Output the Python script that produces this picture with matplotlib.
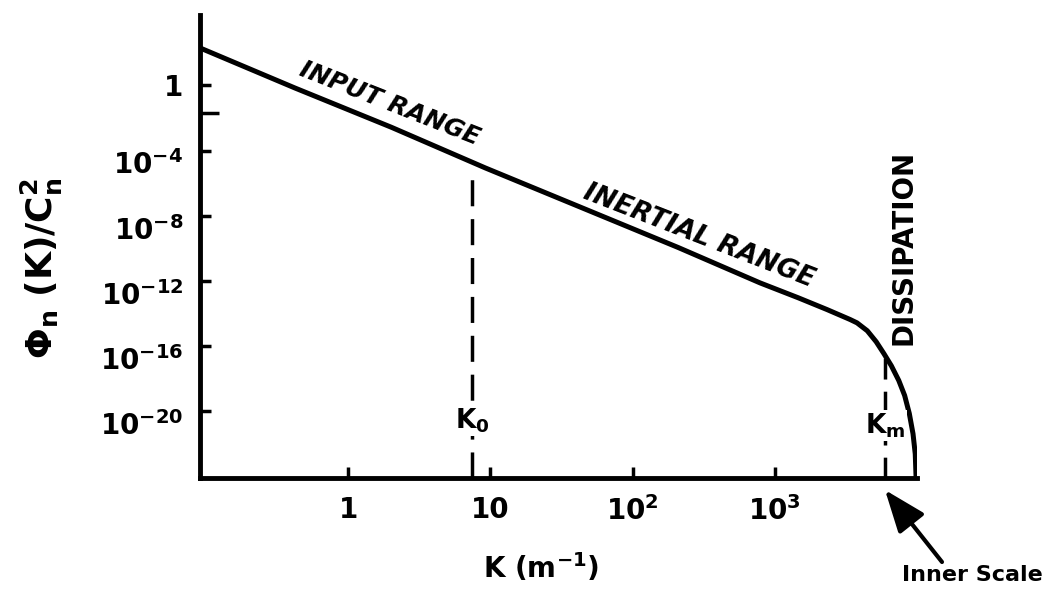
import matplotlib
matplotlib.use("Agg")
import matplotlib.pyplot as plt
from matplotlib.ticker import FixedLocator, NullLocator, NullFormatter, FixedFormatter
from matplotlib.patches import ArrowStyle

plt.rcParams['font.family'] = ['DejaVu Sans']
plt.rcParams['font.weight'] = 'bold'
plt.rcParams['mathtext.fontset'] = 'dejavusans'
plt.rcParams['mathtext.default'] = 'bf'

# ---- data ----
k_values = [0.090, 0.42, 2.0, 9.2, 42.7, 210, 791, 1470, 2344, 3400, 3811,
            4500, 5200, 5900, 6650, 7500, 8250, 8900, 9450, 9800, 9950]
phi_values = [2.0e2, 0.69, 2.7e-3, 8.5e-6, 3.4e-8, 1.1e-10, 7.4e-13, 9.0e-14,
              1.7e-14, 4.2e-15, 2.6e-15, 8.5e-16, 1.8e-16, 3.3e-17, 6.0e-18,
              7.5e-19, 9.0e-20, 7.0e-21, 4.0e-22, 2.3e-23, 5e-25]

k0 = 7.4          # outer-scale wavenumber
k0_top = 3e-6
km = 6000.0       # inner-scale wavenumber
km_top = 2e-17

x_ticks = [1, 10, 100, 1000]
x_tick_labels = ['1', '10', r'$10^2$', r'$10^3$']
y_ticks = [1, 1e-4, 1e-8, 1e-12, 1e-16, 1e-20]
y_tick_labels = ['1', r'$10^{-4}$', r'$10^{-8}$', r'$10^{-12}$', r'$10^{-16}$', r'$10^{-20}$']
y_minor_ticks = [10 ** -1.7]

xlim = (0.0900, 10081)
ylim = (10 ** -24.115, 10 ** 4.324)

# ---- figure ----
W, H = 1046, 589
fig = plt.figure(figsize=(W / 100, H / 100), dpi=100)
ax = fig.add_axes([200 / W, 111 / H, 717 / W, 463 / H])
ax.set_xscale('log')
ax.set_yscale('log')
ax.set_xlim(*xlim)
ax.set_ylim(*ylim)

ax.plot(k_values, phi_values, color='black', lw=3.6, solid_capstyle='round',
        solid_joinstyle='round', zorder=3)

ax.vlines([k0], ylim[0], k0_top, colors='black', lw=2.5, linestyles=(0, (7.5, 3.7)), zorder=2)
ax.vlines([km], ylim[0], km_top, colors='black', lw=2.5, linestyles=(0, (6, 3.5)), zorder=2)

ax.text(k0, 10 ** -20.6, r'K$_0$', ha='center', va='center', fontsize=19,
        bbox=dict(facecolor='white', edgecolor='none', pad=1), zorder=4)
ax.text(km, 10 ** -20.9, r'K$_m$', ha='center', va='center', fontsize=19,
        bbox=dict(facecolor='white', edgecolor='none', pad=1), zorder=4)

# spines
for s in ['top', 'right']:
    ax.spines[s].set_visible(False)
for s in ['left', 'bottom']:
    ax.spines[s].set_linewidth(3.5)
    ax.spines[s].set_capstyle('projecting')

# ticks
ax.xaxis.set_major_locator(FixedLocator(x_ticks))
ax.xaxis.set_major_formatter(FixedFormatter(x_tick_labels))
ax.xaxis.set_minor_locator(NullLocator())
ax.yaxis.set_major_locator(FixedLocator(y_ticks))
ax.yaxis.set_major_formatter(FixedFormatter(y_tick_labels))
ax.yaxis.set_minor_locator(FixedLocator(y_minor_ticks))
ax.yaxis.set_minor_formatter(NullFormatter())

ax.tick_params(axis='both', which='major', direction='in', length=8, width=2.5,
               labelsize=20)
ax.tick_params(axis='x', which='major', pad=13)
ax.tick_params(axis='y', which='major', pad=12)
ax.tick_params(axis='y', which='minor', direction='in', length=14, width=2.5)

for lbl in ax.get_yticklabels():
    if '10' in lbl.get_text():
        lbl.set_verticalalignment('top')

# axis labels
ax.set_xlabel(r'K (m$^{-1}$)', fontsize=20, fontweight='bold')
ax.xaxis.set_label_coords(0.476, -0.194)
ax.xaxis.label.set_va('center')
ax.set_ylabel(r'Φ$_n$ (K)/C$^2_n$', fontsize=26, fontweight='bold')
ax.yaxis.set_label_coords(-0.22, 0.454)
ax.yaxis.label.set_va('center')

# annotations along the curve
fig.text(390 / W, 1 - 104 / H, 'INPUT RANGE', rotation=-21.5, ha='center', va='center',
         fontsize=18, fontweight='bold', fontstyle='oblique', rotation_mode='anchor')
fig.text(699 / W, 1 - 236 / H, 'INERTIAL RANGE', rotation=-21.3, ha='center', va='center',
         fontsize=19, fontweight='bold', fontstyle='oblique', rotation_mode='anchor')
fig.text(903 / W, 1 - 247 / H, 'DISSIPATION', rotation=90, ha='center', va='center',
         fontsize=20, fontweight='bold', rotation_mode='anchor')

# inner scale arrow
fig.text(972 / W, 1 - 575 / H, 'Inner Scale', ha='center', va='center',
         fontsize=16, fontweight='bold')
ax.annotate('', xy=(885 / W, 1 - 490 / H), xycoords='figure fraction',
            xytext=(942 / W, 1 - 562 / H), textcoords='figure fraction',
            arrowprops=dict(arrowstyle=ArrowStyle('-|>', head_length=1.3, head_width=0.5),
                            mutation_scale=20, lw=3, color='black',
                            shrinkA=0, shrinkB=0), annotation_clip=False)

fig.savefig('out.png', dpi=100, facecolor='white')
